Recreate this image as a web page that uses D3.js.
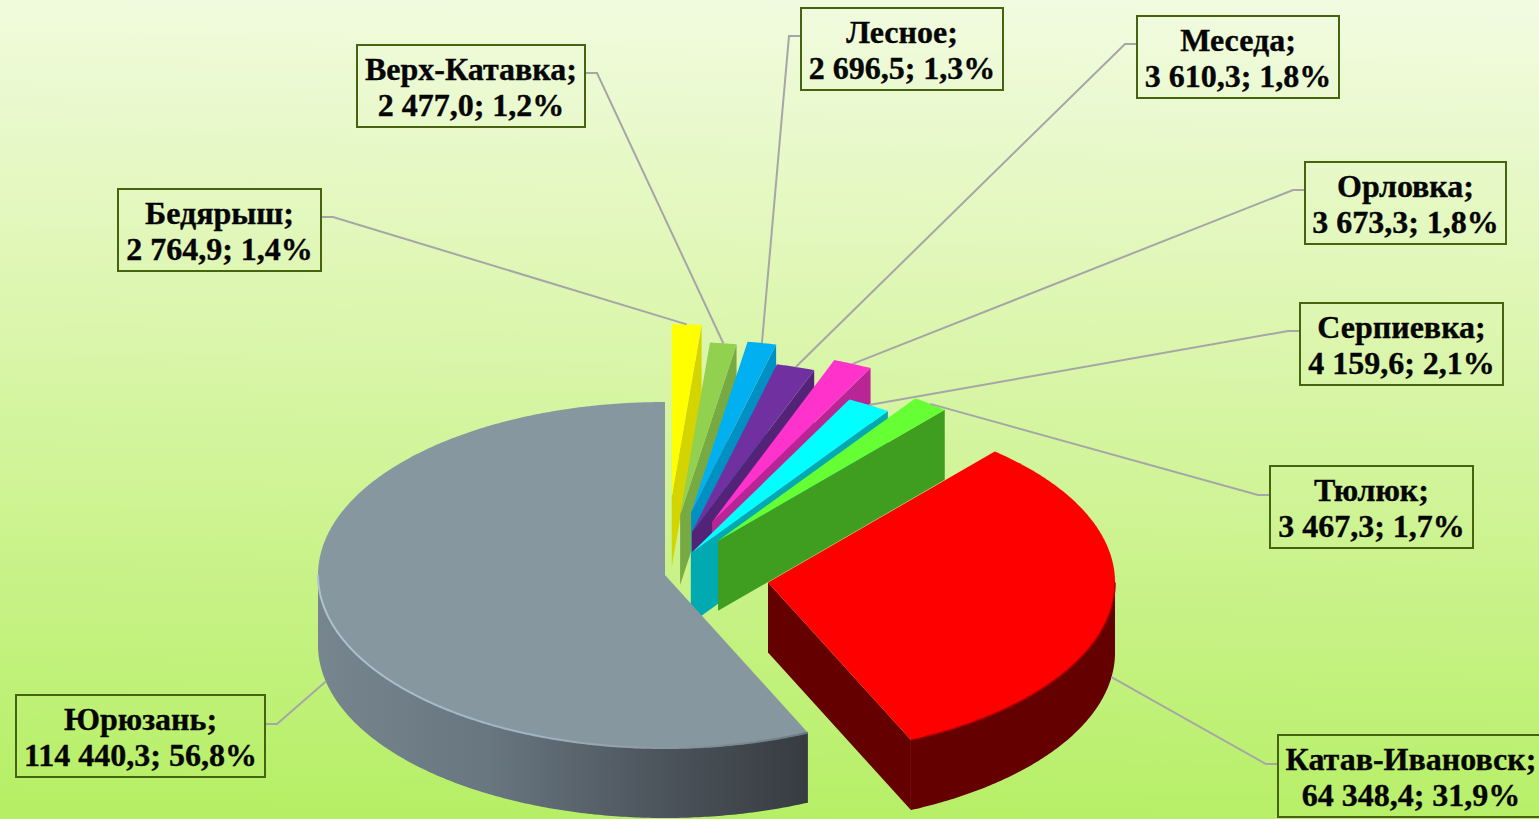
<!DOCTYPE html>
<html>
<head>
<meta charset="utf-8">
<script src="https://cdn.jsdelivr.net/npm/d3@7"></script>
<style>
  html, body { margin: 0; padding: 0; overflow: hidden; }
  svg { display: block; }
</style>
</head>
<body>
<svg width="1539" height="819"></svg>
<script>
const names = ["Бедярыш", "Верх-Катавка", "Лесное", "Меседа", "Орловка", "Серпиевка", "Тюлюк", "Катав-Ивановск", "Юрюзань"];
const values = [2764.9, 2477.0, 2696.5, 3610.3, 3673.3, 4159.6, 3467.3, 64348.4, 114440.3];
const explode = [0.45, 0.35, 0.37, 0.26, 0.335, 0.145, 0.25, 0.30, 0];
const topColors = ["#ffff00", "#92d050", "#00b0f0", "#7030a0", "#ff33cc", "#00ffff", "#66ff33", "#ff0000", "#87979f"];
const wallColors = ["#d4d400", "#77aa42", "#0090c4", "#532378", "#ba2596", "#00aab0", "#3f9e1f", "#640000", "url(#grayWall)"];

// label boxes: left, top, right, bottom
const boxes = [
  [118, 189, 321, 271], [357, 45, 585, 127], [801, 8, 1003, 90],
  [1137, 16, 1339, 98], [1305, 162, 1506, 244], [1300, 303, 1503, 385],
  [1270, 466, 1473, 548], [1278, 735, 1544, 817], [16, 695, 265, 777]
];
const leaderY = [217, 73, 36, 44, 190, 331, 495, 764, 724];

const svg = d3.select("svg");
const width = +svg.attr("width");
const height = +svg.attr("height");

const cx = 665, cy = 575, rx = 347, ry = 173, depth = 70;

const defs = svg.append("defs");

const bg = defs.append("linearGradient").attr("id", "bg")
    .attr("x1", 0.52).attr("y1", 0).attr("x2", 0.48).attr("y2", 1);
bg.append("stop").attr("offset", 0).attr("stop-color", "#f1fbdf");
bg.append("stop").attr("offset", 0.4).attr("stop-color", "#dcf6ae");
bg.append("stop").attr("offset", 1).attr("stop-color", "#b6ef66");

const grayWall = defs.append("linearGradient").attr("id", "grayWall")
    .attr("gradientUnits", "userSpaceOnUse")
    .attr("x1", 318).attr("y1", 0).attr("x2", 808).attr("y2", 0);
grayWall.append("stop").attr("offset", 0).attr("stop-color", "#77858e");
grayWall.append("stop").attr("offset", 0.35).attr("stop-color", "#687680");
grayWall.append("stop").attr("offset", 0.7).attr("stop-color", "#4c545c");
grayWall.append("stop").attr("offset", 1).attr("stop-color", "#363c40");

const grayRim = defs.append("linearGradient").attr("id", "grayRim")
    .attr("gradientUnits", "userSpaceOnUse")
    .attr("x1", 318).attr("y1", 0).attr("x2", 808).attr("y2", 0);
grayRim.append("stop").attr("offset", 0).attr("stop-color", "#aec2d0");
grayRim.append("stop").attr("offset", 0.45).attr("stop-color", "#a0b3c0");
grayRim.append("stop").attr("offset", 0.7).attr("stop-color", "#8a9aa4");
grayRim.append("stop").attr("offset", 1).attr("stop-color", "#6c7a82");

defs.append("filter").attr("id", "soft")
    .append("feGaussianBlur").attr("stdDeviation", 0.7);

svg.append("rect")
    .attr("width", width)
    .attr("height", height)
    .attr("fill", "url(#bg)");

const pie = d3.pie().sort(null).value(d => d);
const arcs = pie(values).map((d, i) => {
    const mid = (d.startAngle + d.endAngle) / 2;
    const apex = project(cx, cy, mid, explode[i]);
    return { i, start: d.startAngle, end: d.endAngle, mid, apex };
});

function project(x0, y0, angle, r) {
    return [x0 + rx * r * Math.sin(angle), y0 - ry * r * Math.cos(angle)];
}

const line = d3.line();

function rimPoints(s, from, to, dy) {
    const n = Math.max(2, Math.ceil((to - from) / 0.01));
    return d3.range(n + 1).map(k => {
        const p = project(s.apex[0], s.apex[1], from + (to - from) * k / n, 1);
        return [p[0], p[1] + dy];
    });
}

const pieG = svg.append("g");

// painter order follows the pie order, back to front
arcs.forEach(s => {
    const g = pieG.append("g").attr("class", "slice");
    const wall = wallColors[s.i];

    // outer wall, front half only
    const from = Math.max(s.start, Math.PI / 2);
    const to = Math.min(s.end, Math.PI * 1.5);
    if (to > from) {
        const pts = rimPoints(s, from, to, 0).concat(rimPoints(s, from, to, depth).reverse());
        g.append("path").attr("d", line(pts) + "Z").attr("fill", wall);
    }
    // cut walls
    const cuts = [];
    if (s.end < Math.PI) cuts.push(s.end);
    if (s.start > Math.PI) cuts.push(s.start);
    cuts.forEach(a => {
        const p = project(s.apex[0], s.apex[1], a, 1);
        const pts = [s.apex, p, [p[0], p[1] + depth], [s.apex[0], s.apex[1] + depth]];
        g.append("path").attr("d", line(pts) + "Z").attr("fill", wall);
    });

    // top face
    const top = [s.apex].concat(rimPoints(s, s.start, s.end, 0));
    g.append("path").attr("d", line(top) + "Z").attr("fill", topColors[s.i]);

    // soft rim on the two large slices
    if (s.i === 7 || s.i === 8) {
        g.append("path")
            .attr("d", line(rimPoints(s, from, to, 0)))
            .attr("fill", "none")
            .attr("stroke", s.i === 8 ? "url(#grayRim)" : "#b00000")
            .attr("stroke-width", s.i === 8 ? 2 : 1.5)
            .attr("filter", "url(#soft)");
    }
});

// leader lines: anchored on the mid point of each slice's rim
const locale = d3.formatLocale({ decimal: ",", thousands: " ", grouping: [3] });
const fmtValue = locale.format(",.1f");
const fmtPct = locale.format(".1f");
const total = d3.sum(values);

arcs.forEach(s => {
    const b = boxes[s.i];
    const p = project(s.apex[0], s.apex[1], s.mid, 1);
    const front = Math.cos(s.mid) < 0;
    const end = [p[0], p[1] + (front ? depth : 0)];
    const onLeft = b[2] < end[0];
    const edge = onLeft ? b[2] : b[0];
    const stub = onLeft ? edge + 12 : edge - 12;
    svg.append("path")
        .attr("d", line([[edge, leaderY[s.i]], [stub, leaderY[s.i]], end]))
        .attr("fill", "none")
        .attr("stroke", "#a6a6a6")
        .attr("stroke-width", 2);
});

// label boxes
const labels = svg.append("g")
  .selectAll("g")
  .data(names)
  .join("g");

labels.append("rect")
    .attr("x", (d, i) => boxes[i][0])
    .attr("y", (d, i) => boxes[i][1])
    .attr("width", (d, i) => boxes[i][2] - boxes[i][0])
    .attr("height", (d, i) => boxes[i][3] - boxes[i][1])
    .attr("fill", "none")
    .attr("stroke", "#46640f")
    .attr("stroke-width", 2);

const labelText = labels.append("text")
    .attr("text-anchor", "middle")
    .attr("font-family", "'Liberation Serif', serif")
    .attr("font-weight", "bold")
    .attr("font-size", 32)
    .attr("fill", "#050505")
    .attr("stroke", "#050505")
    .attr("stroke-width", 0.35);

labelText.append("tspan")
    .attr("x", (d, i) => (boxes[i][0] + boxes[i][2]) / 2)
    .attr("y", (d, i) => boxes[i][1] + 34.5)
    .text(d => d + ";");

labelText.append("tspan")
    .attr("x", (d, i) => (boxes[i][0] + boxes[i][2]) / 2)
    .attr("y", (d, i) => boxes[i][1] + 71)
    .text((d, i) => fmtValue(values[i]) + "; " + fmtPct(values[i] / total * 100) + "%");
</script>
</body>
</html>
